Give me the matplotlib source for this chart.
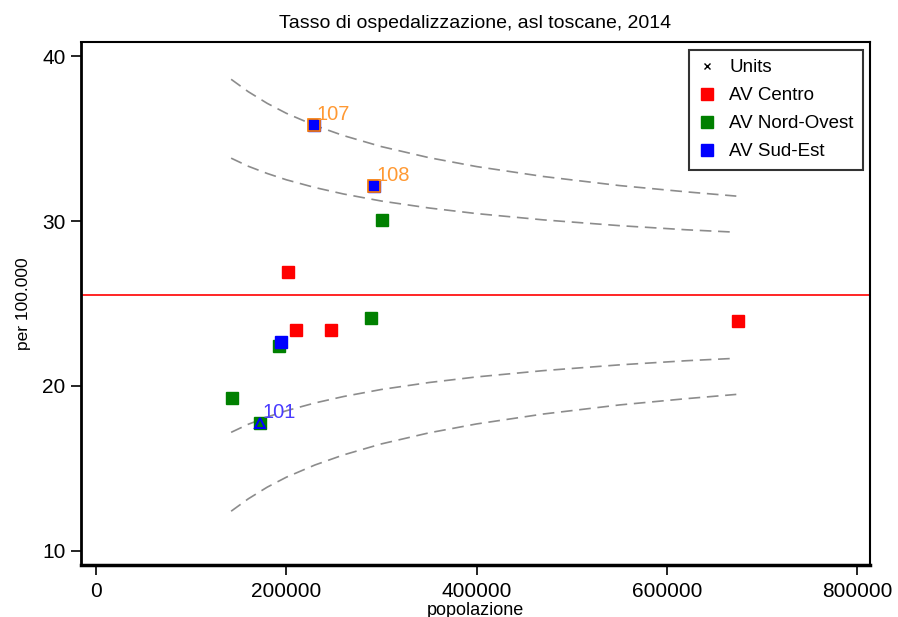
import matplotlib.pyplot as plt
from matplotlib.lines import Line2D

plt.rcParams['font.family'] = ['Liberation Sans', 'DejaVu Sans']

# Valori
centro_pop = [201800, 210200, 247000, 675000]
centro_tasso = [26.9, 23.4, 23.4, 23.95]

nordovest_pop = [143000, 172400, 192300, 289000, 300600]
nordovest_tasso = [19.3, 17.75, 22.45, 24.15, 30.05]

sudest_pop = [194400, 229100, 292200]
sudest_tasso = [22.65, 35.8, 32.1]

# unita' etichettate
label_ids = ["107", "108", "101"]
label_pop = [229100, 292200, 172400]
label_tasso = [35.8, 32.1, 17.75]

media = 25.5

# limiti di controllo (funnel)
lim_pop = [142000, 160000, 180000, 200000, 230000, 260000, 300000,
           350000, 400000, 470000, 550000, 620000, 673000]
sup_99 = [38.59, 37.84, 37.13, 36.53, 35.79, 35.18, 34.51,
          33.84, 33.30, 32.70, 32.15, 31.77, 31.51]
sup_95 = [33.81, 33.32, 32.88, 32.50, 32.03, 31.64, 31.21,
          30.79, 30.45, 30.07, 29.72, 29.47, 29.32]
inf_95 = [17.19, 17.68, 18.12, 18.50, 18.97, 19.36, 19.79,
          20.21, 20.55, 20.93, 21.28, 21.53, 21.68]
inf_99 = [12.41, 13.16, 13.87, 14.47, 15.21, 15.82, 16.49,
          17.16, 17.70, 18.30, 18.85, 19.23, 19.49]

fig = plt.figure(figsize=(8.98, 6.17), dpi=100)
ax = fig.add_axes([0.0902, 0.0843, 0.8786, 0.8476])

# linee del funnel
for lim in (sup_99, sup_95, inf_95, inf_99):
    ax.plot(lim_pop, lim, color="#8c8c8c", lw=1.2, ls=(0, (7, 4)))

ax.axhline(media, color="red", lw=1.2)

ms = 9
ax.plot(centro_pop, centro_tasso, "s", color="red", ms=ms, mec="red", ls="none")
ax.plot(nordovest_pop, nordovest_tasso, "s", color="green", ms=ms,
        mec="green", ls="none")
ax.plot(sudest_pop, sudest_tasso, "s", color="blue", ms=ms, mec="blue",
        ls="none")

# evidenziati
ax.plot(label_pop[:2], label_tasso[:2], "s", color="blue", ms=ms,
        mec="#ff8000", mew=1.2, ls="none")
ax.plot(label_pop[2], label_tasso[2], "^", mfc="none", mec="blue", ms=7,
        mew=1.5, ls="none")

label_colors = ["#ff9933", "#ff9933", "#4a3cff"]
for lid, px, py, c in zip(label_ids, label_pop, label_tasso, label_colors):
    ax.annotate(lid, (px, py), xytext=(2, 1), textcoords="offset points",
                color=c, fontsize=14.5, ha="left", va="bottom")

ax.set_xlim(-15800, 813500)
ax.set_ylim(9.15, 40.85)
ax.set_xticks([0, 200000, 400000, 600000, 800000])
ax.set_xticklabels(["0", "200000", "400000", "600000", "800000"])
ax.set_yticks([10, 20, 30, 40])
ax.tick_params(labelsize=15, length=7.5, width=1.2, direction="out")
ax.tick_params(axis="x", pad=5)

for s in ax.spines.values():
    s.set_linewidth(1.5)
ax.spines["bottom"].set_linewidth(2.5)
ax.spines["left"].set_linewidth(2)

ax.set_title("Tasso di ospedalizzazione, asl toscane, 2014", fontsize=14,
             pad=10)
ax.set_xlabel("popolazione", fontsize=13)
ax.xaxis.set_label_coords(0.5, -0.07)
ax.set_ylabel("per 100.000", fontsize=12.5)
ax.yaxis.set_label_coords(-0.063, 0.5)

handles = [
    Line2D([], [], marker="x", color="black", ls="none", ms=5, mew=1),
    Line2D([], [], marker="s", color="red", ls="none", ms=9),
    Line2D([], [], marker="s", color="green", ls="none", ms=9),
    Line2D([], [], marker="s", color="blue", ls="none", ms=9),
]
leg = ax.legend(handles, ["Units", "AV Centro", "AV Nord-Ovest", "AV Sud-Est"],
                loc="upper right", fontsize=13.5, frameon=True, fancybox=False,
                edgecolor="black", handlelength=0.9, handletextpad=0.72,
                borderpad=0.5, labelspacing=0.58, borderaxespad=0,
                bbox_to_anchor=(0.991, 0.985))
leg.get_frame().set_linewidth(1.5)

fig.savefig("out.png", dpi=100)
